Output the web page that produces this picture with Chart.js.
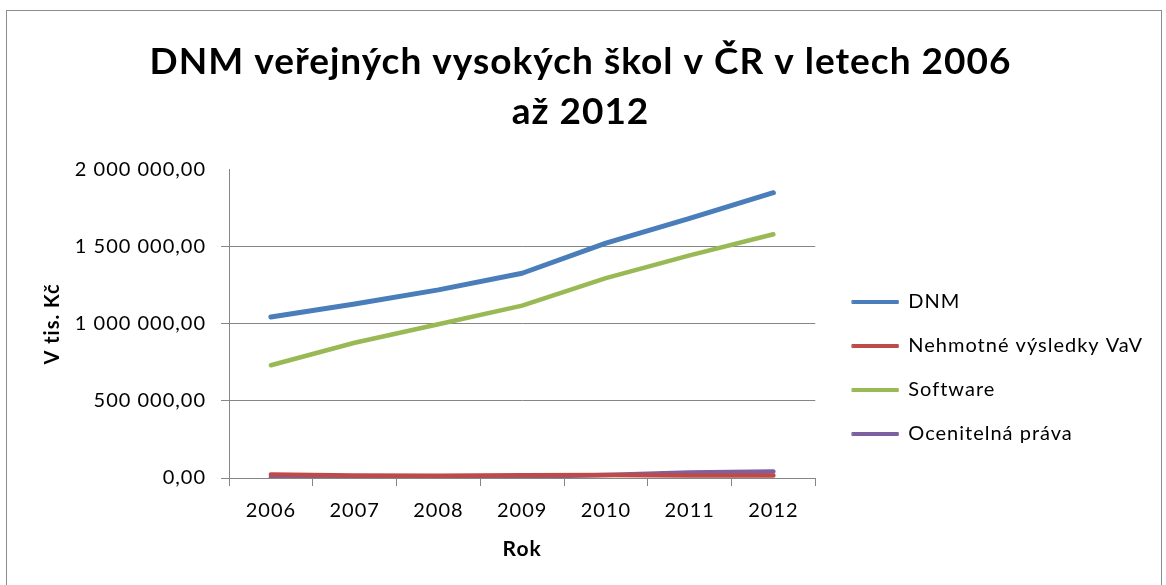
<!DOCTYPE html>
<html>
<head>
<meta charset="utf-8">
<script src="https://cdn.jsdelivr.net/npm/chart.js@4.4.1/dist/chart.umd.min.js"></script>
<style>
  html, body { margin: 0; padding: 0; background: #ffffff; }
  #wrap { position: relative; width: 1166px; height: 585px; overflow: hidden; }
  #frame { position: absolute; left: 6px; top: 10px; width: 1156px; height: 600px; border: 1px solid #8c8c8c; box-sizing: border-box; }
  #c { position: absolute; left: 0; top: 0; }
</style>
</head>
<body>
<div id="wrap">
  <div id="frame"></div>
  <canvas id="c" width="1166" height="585"></canvas>
</div>
<script>
const titleLines = ['DNM veřejných vysokých škol v ČR v letech 2006', 'až 2012'];
const categories = ['2006', '2007', '2008', '2009', '2010', '2011', '2012'];
const seriesNames = ['DNM', 'Nehmotné výsledky VaV', 'Software', 'Ocenitelná práva'];
const dnm = [1045000, 1130000, 1221000, 1329000, 1524000, 1685000, 1852000];
const nehmotne = [22000, 16000, 15000, 18000, 20000, 17000, 17000];
const software = [732000, 878000, 998000, 1119000, 1297000, 1445000, 1582000];
const ocenitelna = [5000, 6000, 6000, 8000, 20000, 35000, 42000];
const yTicks = [0, 500000, 1000000, 1500000, 2000000];
const yTitle = 'V tis. Kč';
const xTitle = 'Rok';

const colors = ['#4A7EBB', '#BE4B48', '#98B954', '#7D60A0'];
const FONT = 'Lato, "Open Sans", sans-serif';

function fmt(v) {
  const s = Math.round(v).toString().replace(/\B(?=(\d{3})+(?!\d))/g, ' ');
  return s + ',00';
}

const spacingPlugin = {
  id: 'spacing',
  beforeInit(chart) { chart.ctx.letterSpacing = '1px'; },
  beforeUpdate(chart) { chart.ctx.letterSpacing = '1px'; },
  beforeDraw(chart) { chart.ctx.letterSpacing = '1px'; }
};

const seriesData = [dnm, nehmotne, software, ocenitelna];
const datasets = seriesNames.map((n, i) => ({
  label: n,
  data: seriesData[i],
  borderColor: colors[i],
  backgroundColor: colors[i],
  borderWidth: i === 0 ? 5 : 4.5,
  pointRadius: 0,
  tension: 0,
  borderCapStyle: 'round',
  borderJoinStyle: 'round',
  fill: false
}));

new Chart(document.getElementById('c'), {
  type: 'line',
  data: { labels: categories, datasets: datasets },
  plugins: [spacingPlugin],
  options: {
    responsive: false,
    animation: false,
    events: [],
    layout: { padding: { left: 8, right: 13, top: 0, bottom: 20 } },
    plugins: {
      tooltip: { enabled: false },
      title: {
        display: true,
        text: titleLines,
        color: '#000000',
        font: { family: FONT, size: 37, weight: 'bold', lineHeight: 1.35 },
        padding: { top: 37, bottom: 33 }
      },
      legend: {
        position: 'right',
        align: 'start',
        maxWidth: 600,
        title: {
          display: true,
          text: '',
          font: { family: FONT, size: 10, lineHeight: 1 },
          padding: { top: 258, bottom: 0 }
        },
        labels: {
          color: '#000000',
          font: { family: FONT, size: 20 },
          boxWidth: 46,
          boxHeight: 3,
          padding: 24,
          generateLabels: function(chart) {
            const items = Chart.defaults.plugins.legend.labels.generateLabels(chart);
            items.forEach((it, i) => {
              it.fillStyle = colors[i];
              it.strokeStyle = colors[i];
              it.lineWidth = 1;
              it.lineDash = [];
            });
            return items;
          }
        }
      }
    },
    scales: {
      x: {
        type: 'category',
        offset: true,
        grid: {
          offset: true,
          drawOnChartArea: false,
          drawTicks: true,
          tickLength: 8,
          color: '#868686'
        },
        border: { display: true, color: '#868686', width: 1 },
        ticks: {
          color: '#000000',
          font: { family: FONT, size: 20 },
          padding: 13,
          maxRotation: 0
        },
        title: {
          display: true,
          text: xTitle,
          color: '#000000',
          font: { family: FONT, size: 21, weight: 'bold' },
          padding: { top: 4, bottom: 3 }
        },
        afterFit: function(scale) { scale.height = 87; }
      },
      y: {
        min: 0,
        max: 2000000,
        afterBuildTicks: function(scale) { scale.ticks = yTicks.map(v => ({ value: v })); },
        grid: {
          drawOnChartArea: true,
          drawTicks: true,
          tickLength: 8,
          color: function(ctx) { return (ctx.tick && ctx.tick.value === 2000000) ? 'rgba(0,0,0,0)' : '#868686'; }
        },
        border: { display: true, color: '#868686', width: 1 },
        ticks: {
          color: '#000000',
          font: { family: FONT, size: 20 },
          padding: 15,
          callback: function(v) { return fmt(v); }
        },
        title: {
          display: true,
          text: yTitle,
          color: '#000000',
          font: { family: FONT, size: 20, weight: 'bold' },
          padding: { top: 33, bottom: 33 }
        },
        afterFit: function(scale) { scale.width = 221; }
      },
      gap: {
        type: 'linear',
        position: 'right',
        display: true,
        min: 0,
        max: 1,
        grid: { display: false, drawTicks: false },
        border: { display: false },
        ticks: { display: false },
        title: { display: false },
        afterFit: function(scale) { scale.width = 13; }
      }
    }
  }
});
</script>
</body>
</html>
